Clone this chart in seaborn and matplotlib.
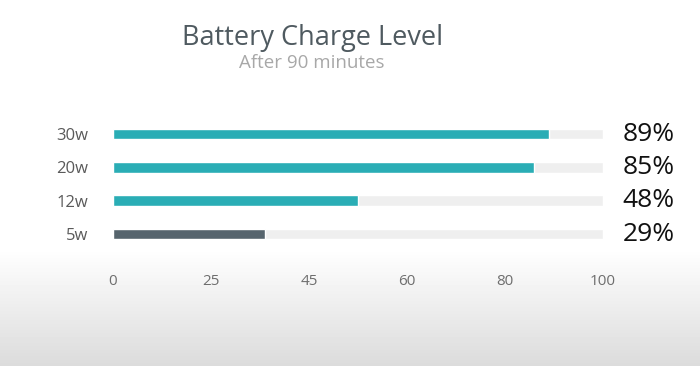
import matplotlib
matplotlib.use("Agg")
import matplotlib.pyplot as plt
import seaborn as sns
import numpy as np
import pandas as pd

categories = ["30w", "20w", "12w", "5w"]
values = [89, 86, 50, 31]
value_labels = ["89%", "85%", "48%", "29%"]
track = [100, 100, 100, 100]
tick_positions = [0, 20, 40, 60, 80, 100]
tick_labels = ["0", "25", "45", "60", "80", "100"]
bar_colors = ["#2aadb5", "#2aadb5", "#2aadb5", "#56646d"]

sns.set_theme(style="white")
plt.rcParams["font.family"] = ["Open Sans", "DejaVu Sans"]

W, H = 700, 366
fig = plt.figure(figsize=(W / 100, H / 100), dpi=100)

# background gradient
bg = fig.add_axes([0, 0, 1, 1], zorder=-10)
bg.set_axis_off()
yy = np.linspace(0, 1, 366)
shade = np.where(yy < 0.68, 1.0, 1.0 - (yy - 0.68) / 0.32 * 0.14)
img = np.repeat(shade[:, None], 2, axis=1)
bg.imshow(img, cmap="gray", vmin=0, vmax=1, aspect="auto", extent=[0, 1, 1, 0])
bg.set_xlim(0, 1)
bg.set_ylim(1, 0)

left, right = 113 / W, 603 / W
top, bottom = 117.5 / H, 250.8 / H
ax = fig.add_axes([left, 1 - bottom, right - left, bottom - top])
ax.patch.set_alpha(0)

df = pd.DataFrame({"cat": categories, "val": values, "track": track})
sns.barplot(data=df, y="cat", x="track", orient="h", color="#efefef",
            width=0.32, ax=ax, saturation=1)
sns.barplot(data=df, y="cat", x="val", orient="h", hue="cat",
            palette=bar_colors, legend=False, width=0.32, ax=ax, saturation=1)

ax.set_xlim(0, 100)
ax.set_ylim(3.5, -0.5)
ax.set_xlabel("")
ax.set_ylabel("")
ax.set_xticks(tick_positions)
ax.set_xticklabels(tick_labels)
ax.tick_params(axis="x", length=0, pad=17, labelsize=11, labelcolor="#6e6e6e")
ax.tick_params(axis="y", length=0, pad=18, labelsize=12, labelcolor="#5a5a5a")
for s in ax.spines.values():
    s.set_visible(False)

for i, lab in enumerate(value_labels):
    ax.text(1.04, 1 - (i + 0.5) / 4, lab, transform=ax.transAxes,
            ha="left", va="center", fontsize=19, color="#111111")

fig.text(313 / W, 1 - 45 / H, "Battery Charge Level", ha="center",
         va="baseline", fontsize=19.5, color="#4f5a60")
fig.text(312 / W, 1 - 68 / H, "After 90 minutes", ha="center",
         va="baseline", fontsize=13.5, color="#a8a8a8")

fig.savefig("out.png", dpi=100)
